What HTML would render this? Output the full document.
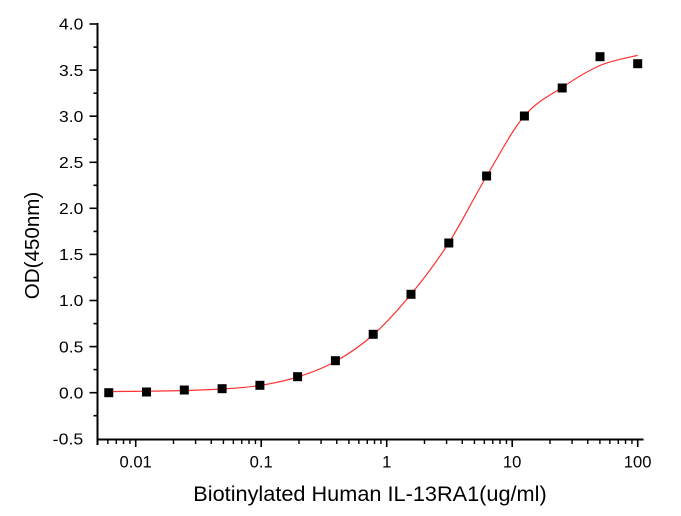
<!DOCTYPE html>
<html><head><meta charset="utf-8"><style>
html,body{margin:0;padding:0;background:#fff;}
svg{display:block;}
text{font-family:"Liberation Sans",Arial,sans-serif;fill:#000;}
</style></head><body>
<svg width="681" height="516" viewBox="0 0 681 516" xmlns="http://www.w3.org/2000/svg">
<rect x="0" y="0" width="681" height="516" fill="#fff"/>
<!-- axes -->
<g stroke="#000" stroke-width="2" fill="none">
<line x1="97.5" y1="23" x2="97.5" y2="445"/>
<line x1="96.5" y1="439.5" x2="643.5" y2="439.5"/>
</g>
<!-- y ticks -->
<g stroke="#000" stroke-width="1.6">
<line x1="89.5" y1="24" x2="97.5" y2="24"/>
<line x1="89.5" y1="70.1" x2="97.5" y2="70.1"/>
<line x1="89.5" y1="116.2" x2="97.5" y2="116.2"/>
<line x1="89.5" y1="162.3" x2="97.5" y2="162.3"/>
<line x1="89.5" y1="208.3" x2="97.5" y2="208.3"/>
<line x1="89.5" y1="254.4" x2="97.5" y2="254.4"/>
<line x1="89.5" y1="300.5" x2="97.5" y2="300.5"/>
<line x1="89.5" y1="346.6" x2="97.5" y2="346.6"/>
<line x1="89.5" y1="392.7" x2="97.5" y2="392.7"/>
<line x1="93.5" y1="47.1" x2="97.5" y2="47.1"/>
<line x1="93.5" y1="93.2" x2="97.5" y2="93.2"/>
<line x1="93.5" y1="139.2" x2="97.5" y2="139.2"/>
<line x1="93.5" y1="185.3" x2="97.5" y2="185.3"/>
<line x1="93.5" y1="231.4" x2="97.5" y2="231.4"/>
<line x1="93.5" y1="277.5" x2="97.5" y2="277.5"/>
<line x1="93.5" y1="323.6" x2="97.5" y2="323.6"/>
<line x1="93.5" y1="369.6" x2="97.5" y2="369.6"/>
<line x1="93.5" y1="415.7" x2="97.5" y2="415.7"/>
</g>
<!-- x ticks -->
<g stroke="#000" stroke-width="1.6">
<line x1="135.7" y1="439.5" x2="135.7" y2="447"/>
<line x1="261.2" y1="439.5" x2="261.2" y2="447"/>
<line x1="386.7" y1="439.5" x2="386.7" y2="447"/>
<line x1="512.2" y1="439.5" x2="512.2" y2="447"/>
<line x1="637.7" y1="439.5" x2="637.7" y2="447"/>
</g>
<g stroke="#000" stroke-width="1.4">
<line x1="107.85" y1="439.5" x2="107.85" y2="444"/>
<line x1="116.26" y1="439.5" x2="116.26" y2="444"/>
<line x1="123.53" y1="439.5" x2="123.53" y2="444"/>
<line x1="129.95" y1="439.5" x2="129.95" y2="444"/>
<line x1="173.48" y1="439.5" x2="173.48" y2="444"/>
<line x1="195.58" y1="439.5" x2="195.58" y2="444"/>
<line x1="211.26" y1="439.5" x2="211.26" y2="444"/>
<line x1="223.42" y1="439.5" x2="223.42" y2="444"/>
<line x1="233.35" y1="439.5" x2="233.35" y2="444"/>
<line x1="241.76" y1="439.5" x2="241.76" y2="444"/>
<line x1="249.03" y1="439.5" x2="249.03" y2="444"/>
<line x1="255.45" y1="439.5" x2="255.45" y2="444"/>
<line x1="298.98" y1="439.5" x2="298.98" y2="444"/>
<line x1="321.08" y1="439.5" x2="321.08" y2="444"/>
<line x1="336.76" y1="439.5" x2="336.76" y2="444"/>
<line x1="348.92" y1="439.5" x2="348.92" y2="444"/>
<line x1="358.85" y1="439.5" x2="358.85" y2="444"/>
<line x1="367.26" y1="439.5" x2="367.26" y2="444"/>
<line x1="374.53" y1="439.5" x2="374.53" y2="444"/>
<line x1="380.95" y1="439.5" x2="380.95" y2="444"/>
<line x1="424.48" y1="439.5" x2="424.48" y2="444"/>
<line x1="446.58" y1="439.5" x2="446.58" y2="444"/>
<line x1="462.26" y1="439.5" x2="462.26" y2="444"/>
<line x1="474.42" y1="439.5" x2="474.42" y2="444"/>
<line x1="484.35" y1="439.5" x2="484.35" y2="444"/>
<line x1="492.76" y1="439.5" x2="492.76" y2="444"/>
<line x1="500.03" y1="439.5" x2="500.03" y2="444"/>
<line x1="506.45" y1="439.5" x2="506.45" y2="444"/>
<line x1="549.98" y1="439.5" x2="549.98" y2="444"/>
<line x1="572.08" y1="439.5" x2="572.08" y2="444"/>
<line x1="587.76" y1="439.5" x2="587.76" y2="444"/>
<line x1="599.92" y1="439.5" x2="599.92" y2="444"/>
<line x1="609.85" y1="439.5" x2="609.85" y2="444"/>
<line x1="618.26" y1="439.5" x2="618.26" y2="444"/>
<line x1="625.53" y1="439.5" x2="625.53" y2="444"/>
<line x1="631.95" y1="439.5" x2="631.95" y2="444"/>
</g>
<!-- y labels -->
<g font-size="16">
<text x="59" y="29.7" textLength="24.3" lengthAdjust="spacingAndGlyphs">4.0</text>
<text x="59" y="75.8" textLength="24.3" lengthAdjust="spacingAndGlyphs">3.5</text>
<text x="59" y="121.9" textLength="24.3" lengthAdjust="spacingAndGlyphs">3.0</text>
<text x="59" y="168" textLength="24.3" lengthAdjust="spacingAndGlyphs">2.5</text>
<text x="59" y="214" textLength="24.3" lengthAdjust="spacingAndGlyphs">2.0</text>
<text x="59" y="260.1" textLength="24.3" lengthAdjust="spacingAndGlyphs">1.5</text>
<text x="59" y="306.2" textLength="24.3" lengthAdjust="spacingAndGlyphs">1.0</text>
<text x="59" y="352.3" textLength="24.3" lengthAdjust="spacingAndGlyphs">0.5</text>
<text x="59" y="398.4" textLength="24.3" lengthAdjust="spacingAndGlyphs">0.0</text>
<text x="52.7" y="444.5" textLength="30.6" lengthAdjust="spacingAndGlyphs">-0.5</text>
</g>
<!-- x labels -->
<g font-size="16.3">
<text x="119.5" y="467.3" textLength="32.3" lengthAdjust="spacingAndGlyphs">0.01</text>
<text x="249.6" y="467.3" textLength="23.1" lengthAdjust="spacingAndGlyphs">0.1</text>
<text x="382.1" y="467.3" textLength="9.2" lengthAdjust="spacingAndGlyphs">1</text>
<text x="502.9" y="467.3" textLength="18.5" lengthAdjust="spacingAndGlyphs">10</text>
<text x="623.8" y="467.3" textLength="27.7" lengthAdjust="spacingAndGlyphs">100</text>
</g>
<!-- axis titles -->
<text x="193.3" y="501" font-size="21" textLength="353.4" lengthAdjust="spacingAndGlyphs">Biotinylated Human IL-13RA1(ug/ml)</text>
<text transform="translate(39,245.5) rotate(-90)" x="0" y="0" font-size="20.6" text-anchor="middle">OD(450nm)</text>
<!-- fit curve -->
<path fill="none" stroke="#ff3030" stroke-width="1.2" d="M108,391.6 C114.38,391.53 133.63,391.38 146.3,391.2 C158.97,391.02 171.38,390.87 184,390.5 C196.62,390.13 209.38,389.83 222,389 C234.62,388.17 247.1,387.5 259.7,385.5 C272.3,383.5 285,381 297.6,377 C310.2,373 322.73,368.5 335.3,361.5 C347.87,354.5 360.38,346.2 373,335 C385.62,323.8 398.38,309.63 411,294.3 C423.62,278.97 436.08,262.72 448.7,243 C461.32,223.28 474.1,197.17 486.7,176 C499.3,154.83 511.75,130.75 524.3,116 C536.85,101.25 549.38,95.92 562,87.5 C574.62,79.08 587.38,70.87 600,65.5 C612.62,60.13 631.42,57 637.7,55.3"/>
<!-- markers -->
<g fill="#000">
<rect x="104.25" y="388.2" width="9" height="9"/>
<rect x="142.04" y="387.5" width="9" height="9"/>
<rect x="179.8" y="385.5" width="9" height="9"/>
<rect x="217.6" y="384.2" width="9" height="9"/>
<rect x="255.4" y="380.8" width="9" height="9"/>
<rect x="293.1" y="372.2" width="9" height="9"/>
<rect x="330.9" y="356.2" width="9" height="9"/>
<rect x="368.7" y="329.8" width="9" height="9"/>
<rect x="406.5" y="289.8" width="9" height="9"/>
<rect x="444.3" y="238.5" width="9" height="9"/>
<rect x="482.1" y="171.5" width="9" height="9"/>
<rect x="519.9" y="111.5" width="9" height="9"/>
<rect x="557.7" y="83.5" width="9" height="9"/>
<rect x="595.5" y="52.2" width="9" height="9"/>
<rect x="633.2" y="59.2" width="9" height="9"/>
</g>
</svg>
</body></html>
